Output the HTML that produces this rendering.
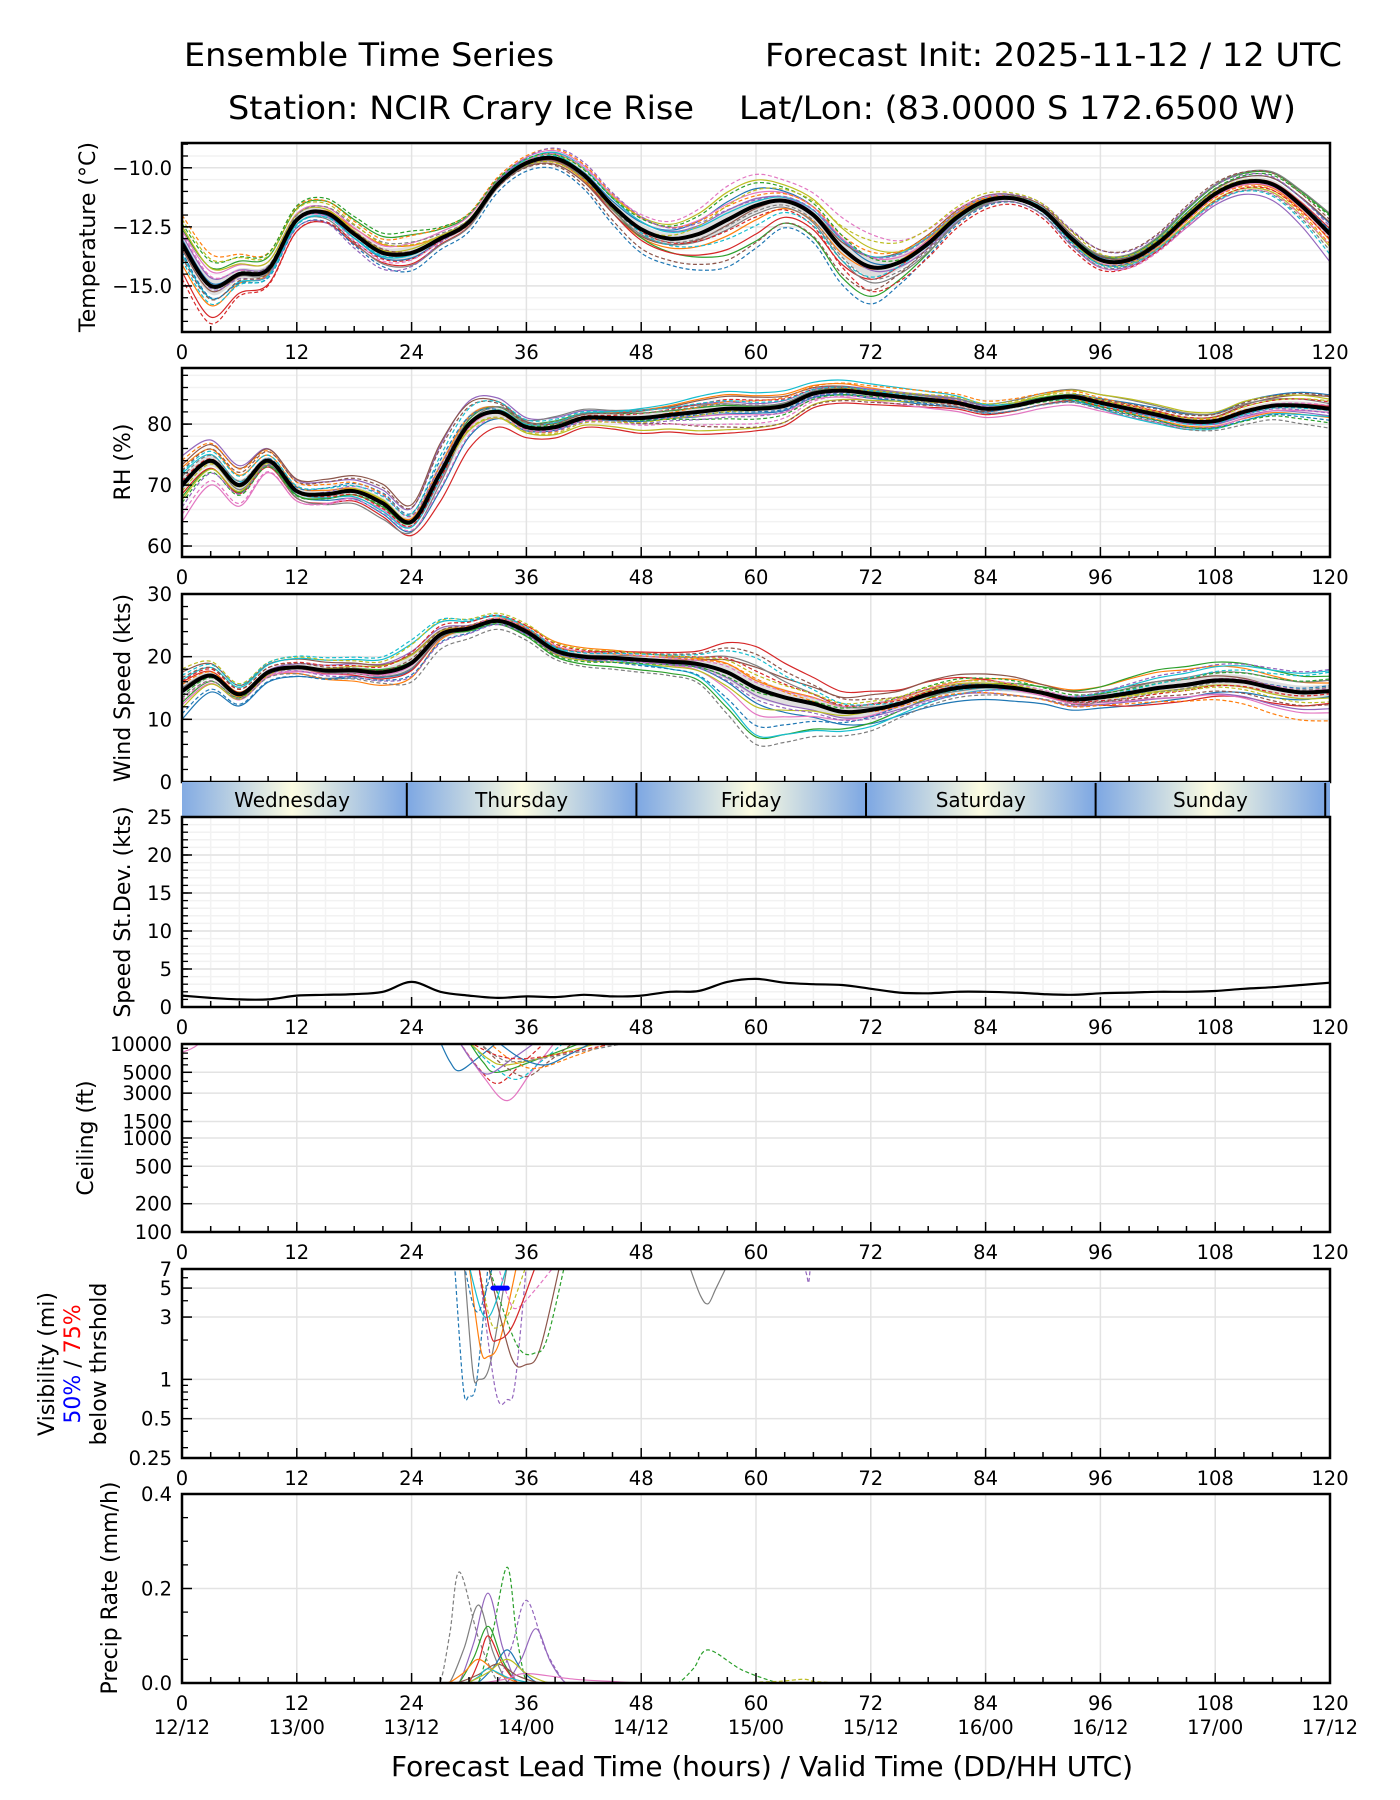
<!DOCTYPE html>
<html><head><meta charset="utf-8"><title>Ensemble Time Series</title>
<style>
html,body{margin:0;padding:0;background:#fff;}
svg{display:block;font-family:"DejaVu Sans","Liberation Sans",sans-serif;}
</style></head>
<body>
<svg id="chart" xmlns="http://www.w3.org/2000/svg" width="1400" height="1800" viewBox="0 0 1400 1800">
<rect width="1400" height="1800" fill="#fff"/>
<defs>
<linearGradient id="dayGrad" x1="0" x2="1" y1="0" y2="0">
<stop offset="0" stop-color="#7da7e3"/><stop offset="0.5" stop-color="#fcfce2"/><stop offset="1" stop-color="#7da7e3"/>
</linearGradient>
</defs>
<text x="184" y="66" font-size="32" textLength="370" lengthAdjust="spacingAndGlyphs">Ensemble Time Series</text>
<text x="765" y="66" font-size="32" textLength="577" lengthAdjust="spacingAndGlyphs">Forecast Init: 2025-11-12 / 12 UTC</text>
<text x="228" y="119" font-size="32" textLength="466" lengthAdjust="spacingAndGlyphs">Station: NCIR Crary Ice Rise</text>
<text x="739" y="119" font-size="32" textLength="557" lengthAdjust="spacingAndGlyphs">Lat/Lon: (83.0000 S 172.6500 W)</text>
<g id="layer"></g>
<text x="762" y="1776" font-size="28" text-anchor="middle" textLength="742" lengthAdjust="spacingAndGlyphs">Forecast Lead Time (hours) / Valid Time (DD/HH UTC)</text>
</svg>
<script>
// ---------- data ----------
const xTicks = [0,12,24,36,48,60,72,84,96,108,120];
const validTimes = ["12/12","13/00","13/12","14/00","14/12","15/00","15/12","16/00","16/12","17/00","17/12"];
const dayNames = ["Wednesday","Thursday","Friday","Saturday","Sunday"];
const dayStartHours = [-0.5,23.5,47.5,71.5,95.5,119.5];

const tempMean = [-13.2,-15.0,-14.5,-14.3,-12.2,-11.9,-12.8,-13.6,-13.6,-13.0,-12.3,-10.7,-9.8,-9.6,-10.3,-11.6,-12.6,-13.0,-12.8,-12.2,-11.6,-11.4,-12.0,-13.4,-14.2,-14.0,-13.2,-12.1,-11.4,-11.3,-11.8,-13.0,-13.9,-13.9,-13.2,-12.1,-11.1,-10.6,-10.7,-11.6,-12.8];
const tempSpread = [0.5,0.6,0.4,0.35,0.3,0.3,0.35,0.4,0.5,0.3,0.25,0.2,0.2,0.25,0.3,0.35,0.4,0.4,0.5,0.6,0.5,0.35,0.4,0.6,0.7,0.5,0.35,0.25,0.2,0.15,0.2,0.25,0.25,0.2,0.2,0.25,0.25,0.25,0.3,0.35,0.45];
const rhMean = [70,74,70,74,69,68.5,69,67,64,72,80,82,79.5,79.5,81,81,81,81.5,82,82.5,82.5,83,85,85.5,85,84.5,84,83.5,82.5,83,84,84.5,83.5,82.5,81.5,80.5,80.5,82,83,83,82.5];
const rhSpread = [2,1.5,1.5,1,1,1.2,1.2,1.5,1.5,3,2.5,1.5,1,1,0.8,0.8,1,1,1.2,1.2,1,1,0.8,0.8,0.8,0.8,0.8,0.8,0.8,0.8,0.8,0.8,0.8,0.8,0.8,0.8,0.8,1,1,1.2,1.2];
const windMean = [14.5,17,14,17.5,18.3,17.8,17.8,17.5,19,23.5,24.5,25.7,24,21,20,19.8,19.5,19.2,18.8,17.5,15,13.5,12.5,11.2,11.5,12.5,14,15,15.3,15,14.2,13.2,13.5,14.2,15,15.5,16.2,16,15,14.3,14.5];
const windSpread = [1.5,1,0.8,0.8,0.9,1,1,1.2,2,1.5,1,0.8,0.8,0.8,0.8,0.8,0.8,0.8,1,2,2.5,2.2,1.8,1.5,1.5,1.2,1.2,1.2,1.2,1.2,1,1,1,1.2,1.4,1.5,1.6,1.7,1.8,1.8,1.8];
const sdValues = [1.5,1.2,1.0,1.0,1.5,1.6,1.7,2.0,3.3,2.0,1.5,1.2,1.4,1.3,1.6,1.4,1.5,2.0,2.1,3.3,3.7,3.2,3.0,2.9,2.4,1.9,1.8,2.0,2.0,1.9,1.7,1.6,1.8,1.9,2.0,2.0,2.1,2.4,2.6,2.9,3.2];
// member offsets (in units of spread) at knots 0,20,40,60,80,100,120 h
const memberOffsets = [
[0.3,-0.5,0.2,1.2,-0.4,0.6,0.8],[-1.5,0.8,-0.6,-1.0,0.5,-0.3,-0.5],[1.0,1.5,0.4,-2.5,-0.8,0.9,1.5],[-2.0,-0.9,-0.3,-2.0,0.3,-0.2,0.4],
[0.6,-0.2,0.8,0.5,-0.6,-1.2,-2.2],[-0.4,0.3,-0.9,-0.2,1.0,0.4,0.9],[0.9,0.6,1.1,0.9,0.2,-0.6,-0.2],[0.2,-1.0,-0.4,-0.6,-0.9,1.1,1.6],
[1.2,0.2,0.6,1.8,0.4,-0.8,-1.0],[-0.8,-0.4,0.9,0.3,0.7,0.1,0.2],[-0.6,-1.2,-1.5,-3.0,-1.1,-0.5,0.3],[2.0,1.2,1.3,0.7,0.8,-0.4,-0.8],
[1.4,1.8,0.5,1.6,-0.3,0.3,1.4],[-2.5,-0.6,0.2,-0.8,-1.5,-1.4,-0.4],[0.1,-1.6,1.6,0.4,0.6,1.6,0.6],[-1.0,0.4,-1.1,-2.6,-0.2,1.8,1.1],
[0.8,-0.8,0.7,2.2,1.3,-1.6,-0.9],[-0.2,1.0,-0.2,-0.4,-0.7,-1.0,-1.3],[1.7,0.9,-0.7,1.1,1.5,0.7,-0.1],[-1.2,-0.3,0.4,-1.4,0.1,-0.9,-1.6]];
// ceiling members: start hour, min hour, min value (ft), end hour
const ceilStart = [27,29,29,30,30,31,30,32,29,31,33,30,-1];
const ceilMinH  = [29,33,34,35,33,36,34,37,32,35,38,36,0.5];
const ceilMin   = [5200,3800,2500,4200,5000,4500,6000,5500,4800,6500,6000,7000,8500];
const ceilEnd   = [33,38,39,40,42,41,44,45,37,47,43,46,2];
// visibility members
const visStart = [28.5,29.5,31,30,31,32,32,30,33,31,29.5,53,65];
const visMinH  = [30,31,34,32,33,36,37,32,35,33,31,55,65.5];
const visMin   = [0.75,1.0,0.7,1.5,2.5,1.3,1.6,3,3.5,2,3.3,3.8,5.5];
const visEnd   = [32,34,36,35,36,39.5,40,34,39,37,32.5,57,66];
const visThresh50 = [32.5,34,5];
// precip members
const prStart = [27,29,31,28,33,29,34,30,31,28,29,30,30,32,52,60];
const prPeakH = [29,32,34,31,36,32,37,32,34,31,33,32,34,36,55,65];
const prPeak  = [0.235,0.19,0.245,0.165,0.175,0.12,0.115,0.1,0.07,0.05,0.04,0.03,0.05,0.02,0.07,0.008];
const prEnd   = [33,35,36,34,40,35,40,35,37,35,37,36,38,46,62,67];

const colors = ["#1f77b4","#ff7f0e","#2ca02c","#d62728","#9467bd","#8c564b","#e377c2","#7f7f7f","#bcbd22","#17becf"];
// ---------- helpers ----------
const NS="http://www.w3.org/2000/svg";
const layer=document.getElementById('layer');
const X0=182,X1=1330;
function X(h){return X0+(h/120)*(X1-X0);}
function el(tag,attrs,parent){const e=document.createElementNS(NS,tag);for(const k in attrs)e.setAttribute(k,attrs[k]);(parent||layer).appendChild(e);return e;}
function linY(p){return v=>p.bottom-(v-p.min)/(p.max-p.min)*(p.bottom-p.top);}
function logY(p){return v=>p.bottom-(Math.log10(v)-Math.log10(p.min))/(Math.log10(p.max)-Math.log10(p.min))*(p.bottom-p.top);}
function smoothPath(pts){
  let d="M"+pts[0][0].toFixed(1)+","+pts[0][1].toFixed(1);
  for(let i=0;i<pts.length-1;i++){
    const p0=pts[Math.max(0,i-1)],p1=pts[i],p2=pts[i+1],p3=pts[Math.min(pts.length-1,i+2)];
    const c1=[p1[0]+(p2[0]-p0[0])/6,p1[1]+(p2[1]-p0[1])/6],c2=[p2[0]-(p3[0]-p1[0])/6,p2[1]-(p3[1]-p1[1])/6];
    d+="C"+c1[0].toFixed(1)+","+c1[1].toFixed(1)+" "+c2[0].toFixed(1)+","+c2[1].toFixed(1)+" "+p2[0].toFixed(1)+","+p2[1].toFixed(1);
  }
  return d;
}
function offsetAt(m,h){const r=memberOffsets[m%20];const k=Math.min(5,Math.floor(h/20));const t=(h-k*20)/20;return r[k]*(1-t)+r[k+1]*t;}

const panels={
 temp:{top:143,bottom:332,min:-16.95,max:-8.95,type:'lin'},
 rh:{top:368,bottom:557,min:58.2,max:89.2,type:'lin'},
 wind:{top:594,bottom:782,min:0,max:30,type:'lin'},
 sd:{top:817,bottom:1007,min:0,max:25,type:'lin'},
 ceil:{top:1044,bottom:1232,min:100,max:10000,type:'log'},
 vis:{top:1269,bottom:1458,min:0.25,max:7,type:'log'},
 pr:{top:1494,bottom:1683,min:0,max:0.4,type:'lin'}
};
function frame(name,p,cfg){
  const Y=p.type==='log'?logY(p):linY(p);
  const g=el('g',{});
  
  
  const clipId='clip-'+name;
  const cp=el('clipPath',{id:clipId},g);el('rect',{x:X0,y:p.top,width:X1-X0,height:p.bottom-p.top},cp);
  (cfg.minorY||[]).forEach(v=>{el('line',{x1:X0,x2:X1,y1:Y(v),y2:Y(v),stroke:'#f2f2f2','stroke-width':1.5},g);});
  if(cfg.minorX){for(let h=3;h<120;h+=3){if(h%12)el('line',{x1:X(h),x2:X(h),y1:p.top,y2:p.bottom,stroke:'#f2f2f2','stroke-width':1.5},g);}}
  cfg.gridY.forEach(v=>{const l=el('line',{x1:X0,x2:X1,y1:Y(v),y2:Y(v),stroke:'#e3e3e3','stroke-width':1.5},g);});
  xTicks.forEach(h=>{if(h>0&&h<120)el('line',{x1:X(h),x2:X(h),y1:p.top,y2:p.bottom,stroke:'#e3e3e3','stroke-width':1.5},g);});
  const data=el('g',{'clip-path':'url(#'+clipId+')'},g);
  const ax=el('g',{},g);
  
  
  for(let h=0;h<=120;h+=3){const len=h%12?6:10;el('line',{x1:X(h),x2:X(h),y1:p.bottom,y2:p.bottom-len,stroke:'#000','stroke-width':1.5},ax);}
  (cfg.minorTickY||[]).forEach(v=>el('line',{x1:X0,x2:X0+6,y1:Y(v),y2:Y(v),stroke:'#000','stroke-width':1.3},ax));
  cfg.tickY.forEach((v,i)=>{el('line',{x1:X0,x2:X0+10,y1:Y(v),y2:Y(v),stroke:'#000','stroke-width':1.5},ax);
    const t=el('text',{x:172,y:Y(v)+7,'font-size':19.5,'text-anchor':'end'},ax);t.textContent=cfg.tickLabels[i];
    });
  if(!cfg.noXLabels){
    xTicks.forEach(h=>{const t=el('text',{x:X(h),y:p.bottom+27,'font-size':19.5,'text-anchor':'middle'},ax);t.textContent=h;
      });
  }
  el('rect',{x:X0,y:p.top,width:X1-X0,height:p.bottom-p.top,fill:'none',stroke:'#000','stroke-width':2.5},ax);
  return {Y,data,g};
}
function ylabel(text,x,cy,size,name){const t=el('text',{x:x,y:cy,'font-size':size||22,'text-anchor':'middle',transform:'rotate(-90 '+x+' '+cy+')'});t.textContent=text;
  return t;}
function ensemble(name,f,mean,spread){
  const n=mean.length;
  const up=[],lo=[];
  for(let i=0;i<n;i++){up.push([X(i*3),f.Y(mean[i]+0.6*spread[i])]);lo.push([X(i*3),f.Y(mean[i]-0.6*spread[i])]);}
  const band=el('path',{d:smoothPath(up)+"L"+smoothPath(lo.slice().reverse()).slice(1)+"Z",fill:'#d4d4d4','fill-opacity':0.75},f.data);
  
  for(let m=0;m<20;m++){
    const mm=(m+(name==='rh'?7:name==='wind'?13:0))%20;
    const pts=[];for(let i=0;i<n;i++){const h=i*3;pts.push([X(h),f.Y(mean[i]+offsetAt(mm,h)*spread[i]*1.2)]);}
    const l=el('path',{d:smoothPath(pts),fill:'none',stroke:colors[m%10],'stroke-width':1.2,'stroke-dasharray':m>=10?'4,2.5':'none'},f.data);
    
  }
  const pts=mean.map((v,i)=>[X(i*3),f.Y(v)]);
  const ml=el('path',{d:smoothPath(pts),fill:'none',stroke:'#000','stroke-width':4,'stroke-linejoin':'round'},f.data);
  
}
function range(a,b,s){const r=[];for(let v=a;v<=b+1e-9;v+=s)r.push(+v.toFixed(3));return r;}

// ---------- temperature ----------
let f=frame('temperature',panels.temp,{gridY:[-10,-12.5,-15],minorY:range(-16.5,-9,0.5),tickY:[-10,-12.5,-15],tickLabels:["\u221210.0","\u221212.5","\u221215.0"],minorTickY:range(-16.5,-9,0.5)});
ensemble('temperature',f,tempMean,tempSpread);
ylabel('Temperature (\u00b0C)',95,237,22,'temperature-y-axis-title');
// ---------- RH ----------
f=frame('rh',panels.rh,{gridY:[60,70,80],minorY:range(60,88,2),tickY:[60,70,80],tickLabels:["60","70","80"],minorTickY:range(60,88,2)});
ensemble('rh',f,rhMean,rhSpread);
ylabel('RH (%)',130,462,22,'rh-y-axis-title');
// ---------- wind ----------
f=frame('wind',panels.wind,{gridY:[10,20],tickY:[0,10,20,30],tickLabels:["0","10","20","30"],minorTickY:range(2,28,2),noXLabels:true});
ensemble('wind',f,windMean,windSpread);
ylabel('Wind Speed (kts)',130,688,22,'wind-y-axis-title');
// ---------- day bar ----------
(function(){
  const g=el('g',{});
  const cp=el('clipPath',{id:'clip-day'},g);el('rect',{x:X0,y:782,width:X1-X0,height:35},cp);
  const inner=el('g',{'clip-path':'url(#clip-day)'},g);
  for(let d=0;d<dayNames.length;d++){
    const a=X(dayStartHours[d]),b=X(dayStartHours[d+1]);
    el('rect',{x:a,y:782,width:b-a,height:35,fill:'url(#dayGrad)'},inner);
    const t=el('text',{x:(a+b)/2,y:807,'font-size':20,'text-anchor':'middle'},g);t.textContent=dayNames[d];
    
    if(d>0){el('line',{x1:a,x2:a,y1:783,y2:816,stroke:'#000','stroke-width':2},g);}
  }
  el('rect',{x:X(119.5),y:782,width:X1-X(119.5),height:35,fill:'#7da7e3'},inner);
  el('line',{x1:X(119.5),x2:X(119.5),y1:783,y2:816,stroke:'#000','stroke-width':2},g);
})();
// ---------- speed sd ----------
f=frame('speed-sd',panels.sd,{gridY:[5,10,15,20],minorY:range(1,24,1),minorX:true,tickY:[0,5,10,15,20,25],tickLabels:["0","5","10","15","20","25"],minorTickY:range(1,24,1)});
(function(){const pts=sdValues.map((v,i)=>[X(i*3),f.Y(v)]);
  const l=el('path',{d:smoothPath(pts),fill:'none',stroke:'#000','stroke-width':2.2},f.data);
  })();
ylabel('Speed St.Dev. (kts)',130,912,22,'speed-sd-y-axis-title');
// ---------- ceiling ----------
f=frame('ceiling',panels.ceil,{gridY:[200,500,1000,1500,3000,5000],tickY:[100,200,500,1000,1500,3000,5000,10000],tickLabels:["100","200","500","1000","1500","3000","5000","10000"],minorTickY:[300,400,600,700,800,900,2000,4000,6000,7000,8000,9000]});
ceilStart.forEach((s,i)=>{
  const pts=[[X(s),f.Y(10500)],[X((s+ceilMinH[i])/2),f.Y(Math.sqrt(10000*ceilMin[i])*0.9)],[X(ceilMinH[i]),f.Y(ceilMin[i])],[X((ceilMinH[i]+ceilEnd[i])/2),f.Y(Math.sqrt(10000*ceilMin[i]))],[X(ceilEnd[i]),f.Y(10500)]];
  const l=el('path',{d:smoothPath(pts),fill:'none',stroke:colors[(i*3)%10],'stroke-width':1.2,'stroke-dasharray':i%2?'4,2.5':'none'},f.data);
  
});
ylabel('Ceiling (ft)',93,1138,22,'ceiling-y-axis-title');
// ---------- visibility ----------
f=frame('visibility',panels.vis,{gridY:[0.5,1,3,5],tickY:[0.25,0.5,1,3,5,7],tickLabels:["0.25","0.5","1","3","5","7"],minorTickY:[0.3,0.4,0.6,0.7,0.8,0.9,2,4,6]});
visStart.forEach((s,i)=>{
  const mid1=(s*0.4+visMinH[i]*0.6),mid2=(visMinH[i]*0.6+visEnd[i]*0.4);
  const pts=[[X(s),f.Y(7.5)],[X(mid1),f.Y(visMin[i]*1.15)],[X(visMinH[i]),f.Y(visMin[i])],[X(mid2),f.Y(visMin[i]*1.3)],[X(visEnd[i]),f.Y(7.5)]];
  const l=el('path',{d:smoothPath(pts),fill:'none',stroke:colors[(i*7)%10],'stroke-width':1.2,'stroke-dasharray':i%2?'none':'4,2.5'},f.data);
  
});
(function(){const b=el('line',{x1:X(visThresh50[0]),x2:X(visThresh50[1]),y1:f.Y(visThresh50[2]),y2:f.Y(visThresh50[2]),stroke:'#0000ff','stroke-width':5,'stroke-linecap':'round'},f.data);
  })();
(function(){
  ylabel('Visibility (mi)',54,1364,22,'visibility-y-axis-title');
  const t=el('text',{x:80,y:1364,'font-size':22,'text-anchor':'middle',transform:'rotate(-90 80 1364)'});
  
  const a=el('tspan',{fill:'#0000ff'},t);a.textContent='50%';const b=el('tspan',{fill:'#000'},t);b.textContent=' / ';const c=el('tspan',{fill:'#ff0000'},t);c.textContent='75%';
  ylabel('below thrshold',106,1364,22,'visibility-y-axis-subtitle');
})();
// ---------- precip ----------
f=frame('precip',panels.pr,{gridY:[0.2],tickY:[0,0.2,0.4],tickLabels:["0.0","0.2","0.4"],minorTickY:[0.05,0.1,0.15,0.25,0.3,0.35]});
prStart.forEach((s,i)=>{
  const pts=[[X(s-1),f.Y(0)],[X(s),f.Y(0.002)],[X((s+prPeakH[i])/2),f.Y(prPeak[i]*0.45)],[X(prPeakH[i]),f.Y(prPeak[i])],[X((prPeakH[i]+prEnd[i])/2),f.Y(prPeak[i]*0.4)],[X(prEnd[i]),f.Y(0.002)],[X(prEnd[i]+1),f.Y(0)]];
  const l=el('path',{d:smoothPath(pts),fill:'none',stroke:colors[[7,4,2,7,4,2,4,3,0,1,5,9,8,6,2,8][i]],'stroke-width':1.2,'stroke-dasharray':[0,2,14,15].includes(i)||i===4?'4,2.5':'none'},f.data);
  
});
ylabel('Precip Rate (mm/h)',117,1588,22,'precip-y-axis-title');
validTimes.forEach((v,i)=>{const t=el('text',{x:X(xTicks[i]),y:1734,'font-size':19.5,'text-anchor':'middle'});t.textContent=v;
  });
</script>
</body></html>
